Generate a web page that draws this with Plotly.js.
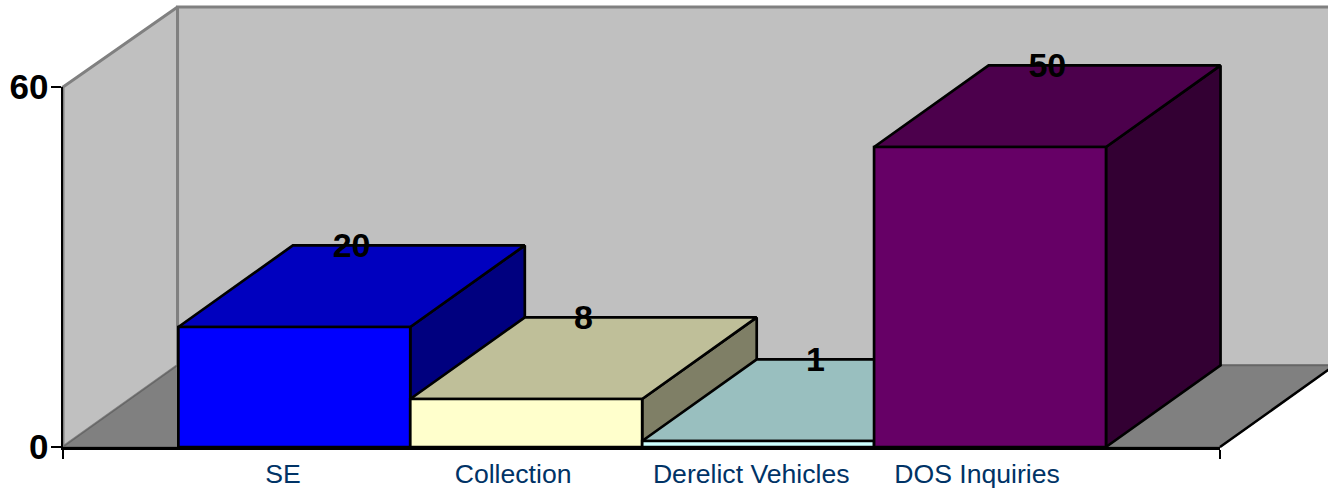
<!DOCTYPE html>
<html>
<head>
<meta charset="utf-8">
<script src="https://cdn.plot.ly/plotly-3.0.1.min.js"></script>
<style>html,body{margin:0;padding:0;background:#fff;overflow:hidden}</style>
</head>
<body>
<div id="chart" style="width:1328px;height:490px"></div>
<script>
var categories = ["SE", "Collection", "Derelict Vehicles", "DOS Inquiries"];
var values = [20, 8, 1, 50];
var frontColors = ["#0000FF", "#FFFFCC", "#CCFFFF", "#660066"];
var topColors = ["#0000BF", "#BFBF99", "#99BFBF", "#4C004C"];
var sideColors = ["#00007F", "#7F7F66", "#667F7F", "#330033"];
var yTicks = [0, 60];

// oblique projection expressed in axis units
var depthX = 0.495, depthY = 13.6;
var barStart = 0.4985, barStep = 1.0022;
var labelNudge = [-0.049, -0.055, -0.026, -0.05];
var yMax = 60, slots = 5, wallTrim = 0.25;

// page geometry: where the axis box sits inside the 1328x490 figure
var W = 1328, H = 490, boxL = 63, boxR = 1220, boxT = 87, boxB = 447;
var pxPerSlot = (boxR - boxL) / slots, pxPerUnit = (boxB - boxT) / yMax;

function poly(xs, ys, fill, lineColor, lineWidth) {
  return {
    type: "scatter", mode: "lines", x: xs.concat([xs[0]]), y: ys.concat([ys[0]]),
    fill: "toself", fillcolor: fill,
    line: {color: lineColor, width: lineWidth, shape: "linear"},
    hoverinfo: "skip", showlegend: false
  };
}

var traces = [];
var wallTop = yMax + depthY - wallTrim;
// left wall
traces.push(poly([0, depthX, depthX, 0], [0, depthY, wallTop, yMax], "#C0C0C0", "#808080", 3));
// back wall
traces.push(poly([depthX, slots + depthX, slots + depthX, depthX], [depthY, depthY, wallTop, wallTop], "#C0C0C0", "#808080", 3));
// floor
traces.push(poly([0, slots, slots + depthX, depthX], [0, 0, depthY, depthY], "#808080", "#666666", 1.5));
// dark right-hand floor edge
traces.push({type: "scatter", mode: "lines", x: [slots, slots + depthX], y: [0, depthY],
  line: {color: "#000000", width: 2.5}, hoverinfo: "skip", showlegend: false});

var labelX = [], labelY = [], labelText = [];
values.forEach(function (v, i) {
  var x0 = barStart + i * barStep, x1 = x0 + barStep;
  traces.push(poly([x1, x1 + depthX, x1 + depthX, x1], [0, depthY, v + depthY, v], sideColors[i], "#000000", 2.7));
  traces.push(poly([x0, x1, x1 + depthX, x0 + depthX], [v, v, v + depthY, v + depthY], topColors[i], "#000000", 2.7));
  traces.push(poly([x0, x1, x1, x0], [0, 0, v, v], frontColors[i], "#000000", 2.7));
  labelX.push((x0 + x1) / 2 + depthX / 2);
  labelY.push(v + depthY - 0.45);
  labelText.push(String(v));
});

traces.push({
  type: "scatter", mode: "text", x: labelX, y: labelY, text: labelText,
  textposition: "middle center",
  textfont: {family: "Liberation Sans, Arial, sans-serif", size: 34, color: "#000000", weight: 700},
  hoverinfo: "skip", showlegend: false
});

// second subplot carries the visible axes, at the same scale as the full-page drawing subplot
traces.push({type: "scatter", mode: "none", x: [0], y: [0], xaxis: "x2", yaxis: "y2", hoverinfo: "skip", showlegend: false});

var layout = {
  width: W, height: H,
  margin: {l: 0, r: 0, t: 0, b: 0, pad: 0},
  paper_bgcolor: "#FFFFFF", plot_bgcolor: "rgba(0,0,0,0)",
  showlegend: false,
  xaxis: {domain: [0, 1], anchor: "y", visible: false, fixedrange: true,
    range: [-boxL / pxPerSlot, (W - boxL) / pxPerSlot]},
  yaxis: {domain: [0, 1], anchor: "x", visible: false, fixedrange: true,
    range: [-(H - boxB) / pxPerUnit, boxB / pxPerUnit]},
  xaxis2: {
    domain: [boxL / W, boxR / W], anchor: "y2",
    range: [0, slots], fixedrange: true, showgrid: false, zeroline: false,
    showline: true, linecolor: "#000000", linewidth: 2.5,
    tickmode: "array",
    tickvals: categories.map(function (c, i) { return i + 1 + labelNudge[i]; }),
    ticktext: categories,
    ticks: "", ticklen: 0, ticklabelstandoff: 2,
    tickangle: 0,
    tickfont: {family: "Liberation Sans, Arial, sans-serif", size: 26.6, color: "#003366"},
    minor: {tickmode: "array", tickvals: [0, slots], ticks: "outside", ticklen: 9, tickwidth: 2.5, tickcolor: "#000000", showgrid: false}
  },
  yaxis2: {
    domain: [(H - boxB) / H, (H - boxT) / H], anchor: "x2",
    range: [0, yMax], fixedrange: true, showgrid: false, zeroline: false,
    showline: true, linecolor: "#000000", linewidth: 2.5,
    tickmode: "array", tickvals: yTicks, ticktext: yTicks.map(String),
    ticks: "outside", ticklen: 10, tickwidth: 2.5, tickcolor: "#000000",
    ticklabelstandoff: -5,
    tickfont: {family: "Liberation Sans, Arial, sans-serif", size: 35, color: "#000000", weight: 700}
  }
};
Plotly.newPlot("chart", traces, layout, {displayModeBar: false, staticPlot: true});
</script>
</body>
</html>
